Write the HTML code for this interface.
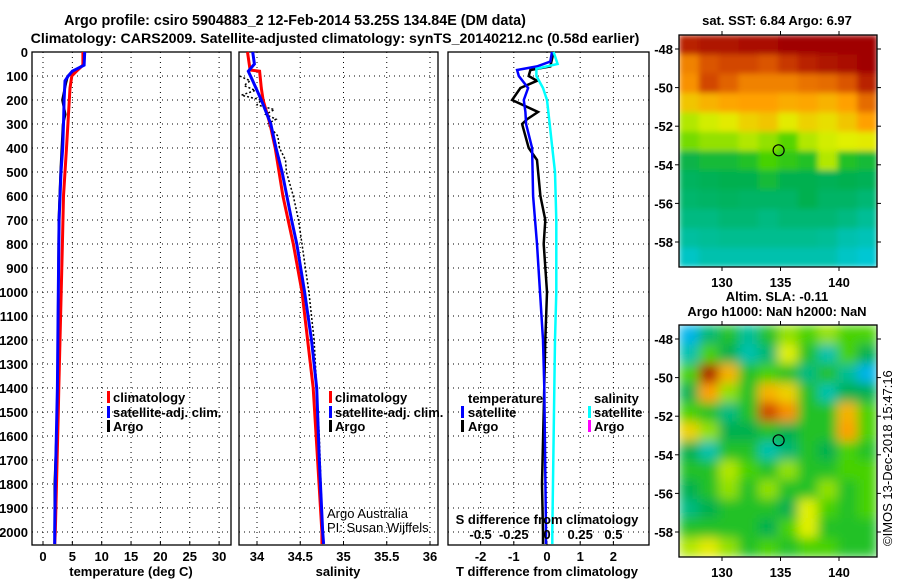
<!DOCTYPE html>
<html><head><meta charset="utf-8"><style>
body{margin:0;background:#fff}
svg{display:block;font-family:"Liberation Sans",sans-serif}
text{font-weight:bold;font-size:13px;fill:#000}
</style></head><body>
<svg id="c" width="900" height="580" viewBox="0 0 900 580">
<defs>
<clipPath id="clipT"><rect x="679" y="35" width="198" height="232"/></clipPath>
<clipPath id="clipB"><rect x="679" y="325" width="198" height="232"/></clipPath>
<filter id="blur" x="0" y="0" width="1" height="1"><feGaussianBlur stdDeviation="5.5" edgeMode="duplicate"/></filter>
<filter id="blur2" x="0" y="0" width="1" height="1"><feGaussianBlur stdDeviation="3" edgeMode="duplicate"/></filter>
</defs>
<text x="295" y="25" text-anchor="middle" style="font-size:14.3px">Argo profile: csiro 5904883_2 12-Feb-2014 53.25S 134.84E (DM data)</text>
<text x="335" y="43" text-anchor="middle" style="font-size:14.2px">Climatology: CARS2009. Satellite-adjusted climatology: synTS_20140212.nc (0.58d earlier)</text>
<text x="777" y="25" text-anchor="middle">sat. SST: 6.84 Argo: 6.97</text>
<text x="777" y="301" text-anchor="middle">Altim. SLA: -0.11</text>
<text x="777" y="316" text-anchor="middle">Argo h1000: NaN h2000: NaN</text>
<text transform="translate(892,546) rotate(-90)" style="font-weight:normal;font-size:13px">©IMOS 13-Dec-2018 15:47:16</text>
</svg>
<script>
// ---- data ----
const depthTicks=[0,100,200,300,400,500,600,700,800,900,1000,1100,1200,1300,1400,1500,1600,1700,1800,1900,2000];
const tTicks=[0,5,10,15,20,25,30];
const sTicks=[34,34.5,35,35.5,36];
const dTTicks=[-2,-1,0,1,2];
const dSTicks=[-0.5,-0.25,0,0.25,0.5];
const dSTickLabels=['-0.5','-0.25','0','0.25','0.5'];
const climDepth=[0,55,80,100,150,400,600,800,1000,1400,1500,1800,2000,2050];
const climTemp=[6.8,6.8,5.7,4.9,4.6,4.0,3.5,3.3,3.1,2.7,2.6,2.3,2.1,2.0];
const satDepth=[0,55,80,100,120,200,300,400,500,700,1000,1400,1800,2000,2050];
const satTemp=[7.1,7.0,5.0,4.3,3.75,3.6,3.5,3.35,3.07,2.75,2.6,2.45,2.1,2.0,2.0];
const argoDepth=[0,50,80,100,130,200,260,300,400,500,700,1000,1500,1800,2000];
const argoTemp=[7.1,7.0,5.5,4.2,3.9,3.3,3.8,3.4,3.2,3.0,2.7,2.6,2.45,2.0,2.0];
const climSalDepth=[0,75,80,150,200,300,400,600,800,1000,1400,1700,2000,2050];
const climSal=[33.89,33.92,34.03,34.05,34.07,34.15,34.21,34.3,34.42,34.52,34.65,34.7,34.75,34.75];
const satSal=[33.95,33.97,33.9,33.95,34.05,34.16,34.22,34.29,34.4,34.46,34.55,34.63,34.69,34.72,34.76,34.77];
const satSalDepth=[0,50,80,120,200,300,400,500,700,800,1000,1200,1400,1700,2000,2050];
const argoSalDepth=[100,120,140,160,180,200,220,240,260,280,300,350,400,450,500,600,700,800,900,1000,1200,1400,1600,1800,2000];
const argoSal=[33.8,33.92,33.85,33.98,33.82,34.05,34.0,34.2,34.1,34.22,34.12,34.24,34.26,34.33,34.34,34.42,34.48,34.52,34.56,34.6,34.66,34.69,34.72,34.74,34.76];
const dTsatDepth=[0,40,60,75,100,150,200,250,300,400,600,800,1000,1200,1400,2000,2050];
const dTsat=[0.15,0.1,-0.3,-0.9,-0.85,-0.57,-0.7,-0.65,-0.63,-0.45,-0.42,-0.3,-0.21,-0.12,-0.08,-0.03,-0.03];
const dTargoDepth=[0,60,75,100,120,150,200,250,280,300,350,400,450,600,700,800,1000,1200,1500,1800,2000,2050];
const dTargo=[0.2,0.1,-0.5,-0.55,-0.3,-0.8,-1.05,-0.27,-0.6,-0.75,-0.65,-0.55,-0.3,-0.2,-0.05,-0.1,0.0,-0.05,-0.1,-0.15,-0.12,-0.12];
const dSsatDepth=[0,50,70,100,150,200,300,400,500,700,1000,1200,2000,2050];
const dSsat=[0.05,0.08,-0.08,-0.08,-0.03,0.0,0.02,0.04,0.06,0.07,0.07,0.06,0.04,0.04];
const sstGrid=[
[0.95,0.97,0.97,0.98,0.98,1,1,1,1,1],
[0.82,0.88,0.9,0.9,0.88,0.92,0.95,0.97,0.98,1],
[0.8,0.9,0.86,0.82,0.82,0.82,0.84,0.85,0.88,0.95],
[0.72,0.75,0.77,0.78,0.78,0.76,0.77,0.75,0.78,0.85],
[0.62,0.64,0.66,0.7,0.72,0.66,0.7,0.68,0.72,0.78],
[0.58,0.6,0.6,0.62,0.6,0.56,0.62,0.64,0.65,0.66],
[0.46,0.48,0.48,0.5,0.55,0.52,0.5,0.62,0.5,0.48],
[0.43,0.44,0.45,0.45,0.48,0.45,0.45,0.44,0.45,0.44],
[0.41,0.42,0.43,0.42,0.42,0.42,0.45,0.42,0.42,0.4],
[0.38,0.38,0.4,0.4,0.38,0.4,0.4,0.4,0.38,0.35],
[0.33,0.35,0.36,0.36,0.36,0.36,0.36,0.35,0.3,0.28],
[0.25,0.3,0.3,0.3,0.3,0.3,0.3,0.3,0.25,0.22]];
const slaGrid=[
[0.12,0.4,0.5,0.35,0.5,0.6,0.55,0.6,0.55,0.55],
[0.3,0.55,0.45,0.3,0.4,0.65,0.5,0.3,0.55,0.45],
[0.55,0.97,0.75,0.5,0.55,0.5,0.38,0.5,0.35,0.12],
[0.45,0.78,0.6,0.5,0.75,0.7,0.5,0.3,0.45,0.45],
[0.55,0.5,0.38,0.5,0.9,0.8,0.5,0.5,0.75,0.55],
[0.7,0.6,0.45,0.45,0.5,0.45,0.5,0.5,0.78,0.55],
[0.45,0.3,0.5,0.5,0.3,0.4,0.5,0.45,0.55,0.5],
[0.5,0.5,0.62,0.55,0.5,0.6,0.5,0.5,0.55,0.55],
[0.45,0.5,0.6,0.5,0.6,0.5,0.5,0.6,0.5,0.55],
[0.38,0.45,0.5,0.5,0.5,0.45,0.65,0.55,0.5,0.55],
[0.5,0.5,0.5,0.5,0.45,0.55,0.65,0.5,0.5,0.5],
[0.62,0.66,0.6,0.5,0.55,0.5,0.55,0.55,0.5,0.5]];
const latTicks=[-48,-50,-52,-54,-56,-58];
const lonTicks=[130,135,140];
const argoLon=134.84, argoLat=-53.25;

// ---- helpers ----
const svg=document.getElementById('c');
const NS='http://www.w3.org/2000/svg';
function mk(tag,attrs,parent){const e=document.createElementNS(NS,tag);for(const k in attrs)e.setAttribute(k,attrs[k]);(parent||svg).appendChild(e);return e;}
const TOP=52,BOT=545,DPX=0.24;
const yD=d=>TOP+d*DPX;
const P1={l:32,r:231}, P2={l:239,r:438}, P3={l:448,r:649};
const xT=t=>43+t*5.87;
const xS=s=>257+(s-34)*86.5;
const xDT=t=>547+t*33.2;
const xDS=s=>547+s*132.8;
const mapL=679,mapR=877;
const xLon=lo=>722+(lo-130)*11.7;
const yLatT=la=>49+(-48-la)*19.3;
const yLatB=la=>339+(-48-la)*19.3;

function panel(P,name){
  const g=mk('g',{});
  
  
  depthTicks.forEach(d=>{mk('line',{x1:P.l,x2:P.r,y1:yD(d),y2:yD(d),stroke:'#000','stroke-width':1,'stroke-dasharray':'1,4'},g);});
  mk('rect',{x:P.l,y:TOP,width:P.r-P.l,height:BOT-TOP,fill:'none',stroke:'#000','stroke-width':1.3},g);
  return g;
}
function vgrid(g,ticks,fx,labels,ly,P){
  ticks.forEach((t,i)=>{const x=fx(t);
    mk('line',{x1:x,x2:x,y1:TOP,y2:BOT,stroke:'#000','stroke-width':1,'stroke-dasharray':'1,4'},g);
    mk('line',{x1:x,x2:x,y1:BOT-4,y2:BOT,stroke:'#000'},g);
    if(labels){const tx=mk('text',{x:x,y:ly,'text-anchor':'middle'},g);tx.textContent=labels[i];}
  });
}
function line(g,xs,ds,fx,color,w,name,dash){
  const pts=xs.map((v,i)=>fx(v).toFixed(1)+','+yD(ds[i]).toFixed(1)).join(' ');
  const p=mk('polyline',{points:pts,fill:'none',stroke:color,'stroke-width':w},g);
  if(dash)p.setAttribute('stroke-dasharray',dash);
  
  
}
function label(x,y,str,name,anchor,extra){const t=mk('text',Object.assign({x:x,y:y,'text-anchor':anchor||'start'},extra||{}));t.textContent=str;
  
  return t;}
function legend(x,y,color,str,name,tx){
  const g=mk('g',{});
  
  
  mk('rect',{x:x,y:y-6,width:3,height:12,fill:color},g);
  const t=mk('text',{x:tx||x+6,y:y+5},g);t.textContent=str;
}

// Panel 1 temperature
const g1=panel(P1,'temperature-panel');
vgrid(g1,tTicks,xT,tTicks.map(String),561,P1);
depthTicks.forEach(d=>{const t=mk('text',{x:28,y:yD(d)+5,'text-anchor':'end'},g1);t.textContent=d;});
line(g1,argoTemp,argoDepth,xT,'#000',2.5,'argo-temperature-line');
line(g1,climTemp,climDepth,xT,'#f00',3,'climatology-temperature-line');
line(g1,satTemp,satDepth,xT,'#00f',3,'satellite-temperature-line');
label(131,576,'temperature (deg C)','temperature-axis-title','middle');
legend(107,397,'#f00','climatology','legend-climatology-temp');
legend(107,412,'#00f','satellite-adj. clim.','legend-satellite-temp');
legend(107,426,'#000','Argo','legend-argo-temp');

// Panel 2 salinity
const g2=panel(P2,'salinity-panel');
vgrid(g2,sTicks,xS,sTicks.map(String),561,P2);
line(g2,argoSal,argoSalDepth,xS,'#000',1.5,'argo-salinity-line','2,2');
line(g2,climSal,climSalDepth,xS,'#f00',3,'climatology-salinity-line');
line(g2,satSal,satSalDepth,xS,'#00f',3,'satellite-salinity-line');
label(338,576,'salinity','salinity-axis-title','middle');
legend(329,397,'#f00','climatology','legend-climatology-sal',335);
legend(329,412,'#00f','satellite-adj. clim.','legend-satellite-sal',335);
legend(329,426,'#000','Argo','legend-argo-sal',335);
label(327,518,'Argo Australia','credit-argo-australia','start',{style:'font-weight:normal'});
label(327,532,'PI: Susan Wijffels','credit-pi','start',{style:'font-weight:normal'});

// Panel 3 differences
const g3=panel(P3,'difference-panel');
vgrid(g3,dTTicks,xDT,dTTicks.map(String),561,P3);
line(g3,dTargo,dTargoDepth,xDT,'#000',2.5,'argo-temp-diff-line');
line(g3,dTsat,dTsatDepth,xDT,'#00f',2.5,'satellite-temp-diff-line');
line(g3,dSsat,dSsatDepth,xDS,'#0ff',2.5,'satellite-sal-diff-line');
dSTicks.forEach((s,i)=>{const t=mk('text',{x:xDS(s),y:539,'text-anchor':'middle'},g3);t.textContent=dSTickLabels[i];});
label(547,524,'S difference from climatology','s-diff-axis-title','middle');
label(547,576,'T difference from climatology','t-diff-axis-title','middle');
label(468,403,'temperature','legend-temperature-header');
legend(461,412,'#00f','satellite','legend-satellite-tdiff',468);
legend(461,426,'#000','Argo','legend-argo-tdiff',468);
label(594,403,'salinity','legend-salinity-header');
legend(588,412,'#0ff','satellite','legend-satellite-sdiff',594);
legend(588,426,'#f0f','Argo','legend-argo-sdiff',594);

// colormap
const cstops=[[0,[0,150,255]],[0.2,[0,200,220]],[0.35,[0,190,150]],[0.45,[0,176,80]],[0.55,[70,210,0]],[0.65,[225,240,0]],[0.78,[255,160,0]],[0.9,[210,70,0]],[1,[160,0,0]]];
function cmap(v){for(let i=1;i<cstops.length;i++){if(v<=cstops[i][0]){const a=cstops[i-1],b=cstops[i];const f=(v-a[0])/(b[0]-a[0]);return 'rgb('+a[1].map((c,k)=>Math.round(c+(b[1][k]-c)*f)).join(',')+')';}}return 'rgb(160,0,0)';}

function map(grid,top,yLat,clip,filt,name){
  const g=mk('g',{});
  
  
  const cg=mk('g',{'clip-path':'url(#'+clip+')'},g);
  const ig=mk('g',{filter:'url(#'+filt+')'},cg);
  const rows=grid.length,cols=grid[0].length,cw=(mapR-mapL)/cols,ch=232/rows;
  grid.forEach((row,r)=>row.forEach((v,c)=>{
    const cell=mk('rect',{x:mapL+c*cw,y:top+r*ch,width:cw+0.5,height:ch+0.5,fill:cmap(v)},ig);
    
    
  }));
  mk('rect',{x:mapL,y:top,width:mapR-mapL,height:232,fill:'none',stroke:'#000','stroke-width':1.3},g);
  latTicks.forEach(la=>{const y=yLat(la);
    mk('line',{x1:mapL-4,x2:mapL,y1:y,y2:y,stroke:'#000'},g);
    mk('line',{x1:mapR,x2:mapR+4,y1:y,y2:y,stroke:'#000'},g);
    const t=mk('text',{x:mapL-6,y:y+5,'text-anchor':'end'},g);t.textContent=la;});
  lonTicks.forEach(lo=>{const x=xLon(lo);
    mk('line',{x1:x,x2:x,y1:top-4,y2:top,stroke:'#000'},g);
    mk('line',{x1:x,x2:x,y1:top+232,y2:top+236,stroke:'#000'},g);
    const t=mk('text',{x:x,y:top+252,'text-anchor':'middle'},g);t.textContent=lo;});
  const ci=mk('circle',{cx:xLon(argoLon),cy:yLat(argoLat),r:5.5,fill:'none',stroke:'#000','stroke-width':1.2},g);
  
  
}
map(sstGrid,35,yLatT,'clipT','blur2','sst-map');
map(slaGrid,325,yLatB,'clipB','blur','sla-map');
</script>
</body></html>
